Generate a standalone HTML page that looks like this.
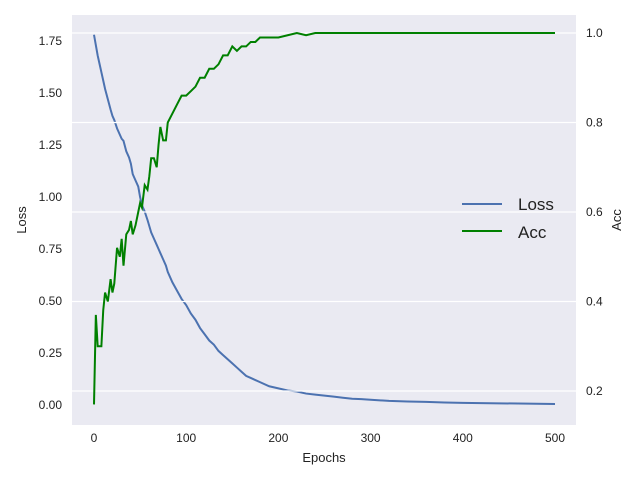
<!DOCTYPE html>
<html><head><meta charset="utf-8"><style>
body{margin:0;background:#fff;font-family:"Liberation Sans",sans-serif;}
svg text{font-family:"Liberation Sans",sans-serif;fill:#222;}
</style></head><body>
<svg id="chart" width="640" height="480">
<rect x="72" y="15" width="504" height="410" fill="#eaeaf2"/>
<g id="lines1"></g>
<g id="grid"></g>
<g id="lines2"></g>
<g id="axes"></g>
<g>
<line x1="462" y1="204" x2="502" y2="204" stroke="#4c72b0" stroke-width="2"/>
<text x="518" y="210" font-size="17">Loss</text>
<line x1="462" y1="231" x2="502" y2="231" stroke="#008000" stroke-width="2"/>
<text x="518" y="238" font-size="17">Acc</text>
</g>
<text x="324" y="462" font-size="13" text-anchor="middle">Epochs</text>
<text transform="translate(26,220) rotate(-90)" font-size="13" text-anchor="middle">Loss</text>
<text transform="translate(621,220) rotate(-90)" font-size="13" text-anchor="middle">Acc</text>
</svg>
<script>
const epochs=[0,2,4,6,8,10,12,15,18,20,22,25,28,30,32,35,38,40,42,45,48,50,52,55,58,60,62,65,68,70,72,75,78,80,85,90,95,100,105,110,115,120,125,130,135,140,145,150,155,160,165,170,175,180,190,200,210,220,230,240,250,260,270,280,290,300,320,340,360,380,400,420,440,460,480,500];
const lossVals=[1.78,1.73,1.68,1.64,1.60,1.56,1.52,1.47,1.42,1.39,1.37,1.33,1.30,1.28,1.27,1.22,1.19,1.16,1.11,1.08,1.05,1.00,0.96,0.93,0.89,0.86,0.83,0.80,0.77,0.75,0.73,0.70,0.67,0.64,0.59,0.55,0.51,0.48,0.44,0.41,0.37,0.34,0.31,0.29,0.26,0.24,0.22,0.20,0.18,0.16,0.14,0.13,0.12,0.11,0.09,0.08,0.07,0.065,0.055,0.05,0.045,0.04,0.035,0.03,0.028,0.025,0.02,0.017,0.015,0.012,0.01,0.009,0.008,0.007,0.006,0.005];
const accVals=[0.17,0.37,0.30,0.30,0.30,0.38,0.42,0.40,0.45,0.42,0.44,0.52,0.50,0.54,0.48,0.55,0.56,0.58,0.55,0.57,0.60,0.62,0.61,0.66,0.65,0.68,0.72,0.72,0.70,0.75,0.79,0.76,0.76,0.80,0.82,0.84,0.86,0.86,0.87,0.88,0.90,0.90,0.92,0.92,0.93,0.95,0.95,0.97,0.96,0.97,0.97,0.98,0.98,0.99,0.99,0.99,0.995,1.0,0.995,1.0,1.0,1.0,1.0,1.0,1.0,1.0,1.0,1.0,1.0,1.0,1.0,1.0,1.0,1.0,1.0,1.0];
const xTicks=[0,100,200,300,400,500];
const lossTicks=[0,0.25,0.5,0.75,1.0,1.25,1.5,1.75];
const accTicks=[0.2,0.4,0.6,0.8,1.0];
const X=v=>94+v*(555-94)/500;
const YL=v=>405-v*(405-41)/1.75;
const YR=v=>391-(v-0.2)*(391-33)/0.8;
const NS="http://www.w3.org/2000/svg";
function mk(tag,attrs,parent){const e=document.createElementNS(NS,tag);for(const k in attrs)e.setAttribute(k,attrs[k]);parent.appendChild(e);return e;}
const lines1=document.getElementById('lines1'),lines2=document.getElementById('lines2'),grid=document.getElementById('grid'),axes=document.getElementById('axes');
let p=mk('polyline',{points:epochs.map((e,i)=>X(e)+','+YL(lossVals[i])).join(' '),fill:'none',stroke:'#4c72b0','stroke-width':2},lines1);


p=mk('polyline',{points:epochs.map((e,i)=>X(e)+','+YR(accVals[i])).join(' '),fill:'none',stroke:'#008000','stroke-width':2},lines2);


accTicks.forEach(v=>{
 const g=mk('line',{x1:72,x2:576,y1:YR(v),y2:YR(v),stroke:'#fff','stroke-width':1.2},grid);
 
 
 const t=mk('text',{x:586,y:YR(v)+4,'font-size':12},axes);t.textContent=v.toFixed(1);
 
 
});
lossTicks.forEach(v=>{
 const t=mk('text',{x:62,y:YL(v)+4,'font-size':12,'text-anchor':'end'},axes);t.textContent=v.toFixed(2);
 
 
});
xTicks.forEach(v=>{
 const t=mk('text',{x:X(v),y:442,'font-size':12,'text-anchor':'middle'},axes);t.textContent=v;
 
 
});
</script>
</body></html>
